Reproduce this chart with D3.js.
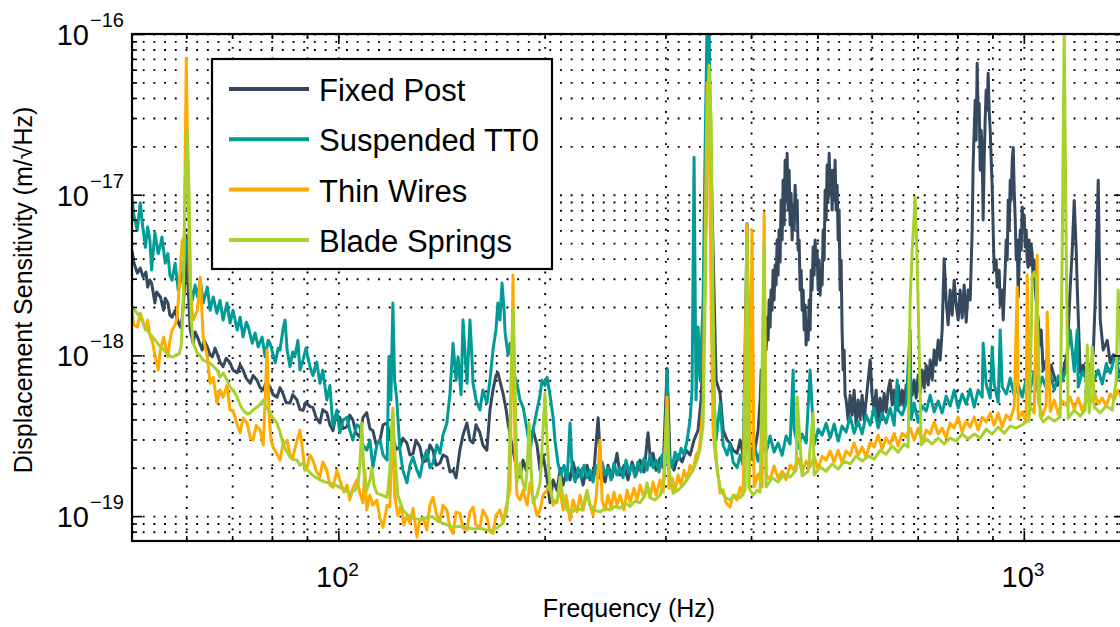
<!DOCTYPE html>
<html><head><meta charset="utf-8">
<script src="https://cdn.jsdelivr.net/npm/d3@7"></script>
<style>body{margin:0;background:#fff} text{font-family:"Liberation Sans",Arial,Helvetica,sans-serif;fill:#000}</style>
</head><body><svg id="c" width="1120" height="627"></svg>
<script>
// values: [frequency Hz, displacement sensitivity in units of 1e-19 m/sqrt(Hz)]
const UNIT = 1e-19;
const seriesNames = ["Fixed Post", "Suspended TT0", "Thin Wires", "Blade Springs"];
const seriesColors = ["#34495e", "#009a97", "#ffab00", "#a7d12c"];
const xDomain = [50, 1400];
const yDomain = [7e-20, 1e-16];
const xMajorTicks = [100, 1000];
const xMajorExp = ["2", "3"];
const xMinorTicks = [60, 70, 80, 90, 200, 300, 400, 500, 600, 700, 800, 900];
const yMajorExp = [-19, -18, -17, -16];
const yMinorMult = [2, 3, 4, 5, 6, 7, 8, 9];

const fixedPost = [[50,45],[50.3,38],[50.9,32.5],[51.4,35],[51.9,30.7],[52.4,33],[52.7,26.6],[53.1,29.4],[53.4,28.2],[54,21.2],[54.3,24.8],[55,23.1],[55.6,19.1],[55.9,22.7],[56.4,21.2],[56.8,17.8],[57.2,17.3],[57.8,19.1],[58.4,16.1],[58.8,15],[59.2,17.1],[59.6,25.5],[60,56],[60.4,25.5],[60.8,14.4],[61.4,11.9],[61.8,14],[62.3,13],[62.9,11.6],[63.3,10.8],[63.7,12.4],[64.4,11.3],[65,10.1],[65.5,9.8],[66.1,11.1],[66.5,10.3],[67.2,9.1],[67.9,8.5],[68.6,9.6],[69.5,9.0],[70.2,8.1],[71.2,7.8],[71.9,8.7],[72.6,8.1],[73.4,7.2],[74.4,6.7],[75.1,7.5],[76.1,7.0],[76.9,6.3],[77.7,6.1],[78.5,6.8],[79.5,6.35],[80.3,5.7],[81.4,5.5],[82.2,6.3],[83,5.8],[83.9,5.1],[85,5.05],[85.8,5.7],[87,5.3],[87.9,4.6],[88.8,4.55],[89.7,5.1],[90.9,4.8],[91.8,4.75],[92.8,4.1],[94,3.8],[94.9,4.6],[96.2,4.4],[97.2,3.7],[98.2,3.4],[99.2,4.25],[100.5,4.1],[101.6,3.5],[103,3.6],[103.9,4.25],[105,3.96],[106.1,3.3],[107.5,3.1],[108.6,4.1],[110,4.4],[111.2,3.5],[112.3,3.4],[113.5,2.8],[115,2.97],[116.2,3.7],[117.8,3.8],[118.9,3.1],[120.1,3.1],[121.4,2.6],[123,2.7],[124.2,3.05],[125.9,2.85],[127.2,2.4],[128.5,2.45],[129.8,2.97],[131.5,2.7],[132.9,2.17],[134.6,2.23],[136,2.77],[137.4,2.57],[138.8,2.07],[140.7,2.14],[142.1,2.4],[144,2.33],[145.5,1.88],[147,1.93],[148.5,1.73],[150.4,2.57],[152,3.2],[154,3.8],[155.6,2.97],[157.2,2.85],[158.8,3.7],[160.9,3.3],[162.5,2.77],[164.7,2.57],[166.4,4.57],[168.1,6.1],[169.8,7.5],[170.9,7.8],[172.7,6.5],[173.9,5.8],[175.7,4.57],[176.8,3.8],[178.6,2.97],[179.8,2.57],[181.6,2.07],[184.1,1.75],[186,2.23],[187.9,1.93],[190.4,2.77],[192.3,3.43],[194.9,2.77],[196.9,1.93],[198.9,2.4],[201.7,1.68],[203.6,1.21],[205.7,1.68],[208.4,1.45],[210.6,1.93],[212.7,1.56],[215.6,1.93],[217.8,1.68],[220,2.17],[222.9,1.73],[225.2,1.93],[227.5,1.56],[230.6,2.07],[232.9,1.68],[236,1.93],[239.3,4.1],[241.7,1.93],[245,1.63],[247.4,2.07],[250.8,1.73],[255,2.46],[257.6,1.8],[261.1,2.07],[264.6,1.68],[268.2,2.17],[271.8,1.8],[275.5,2.23],[279.2,1.88],[283,3.3],[285.8,2.07],[287.8,2.46],[290.7,1.93],[294.7,2.3],[297.7,2.0],[301.7,8.3],[304.7,2.23],[308.8,1.93],[313.1,2.4],[317.3,2.17],[321.6,2.57],[325.9,2.4],[330.3,2.97],[334.8,3.43],[338.2,5.3],[341.6,14.4],[345,189],[348.6,291],[352.1,45],[355.7,7.0],[360.5,5.8],[364.2,3.43],[369.1,2.97],[372.8,2.85],[376.6,2.57],[381.7,2.46],[385.6,2.97],[389.5,2.4],[394.7,2.77],[398.7,2.57],[402.8,2.23],[409.6,3.43],[412.4,5.27],[413.8,8.1],[415.2,6.08],[416.6,11.6],[418,9.35],[419.4,14.4],[420.8,10.8],[422.2,17.1],[423.6,12.45],[425,22.1],[426.4,15],[427.8,25.5],[429.3,19.1],[430.7,33.9],[432.2,22.1],[433.7,36.5],[435.1,27.4],[436.6,52.2],[438,31.6],[439.5,60.2],[441,38.1],[442.5,92.5],[444,52.2],[445.5,123],[447,64.7],[448.5,164],[450,92.5],[451.5,181],[453.1,80.2],[454.6,142],[456.1,64.7],[457.6,102],[459.2,52.2],[460.7,86.1],[462.3,60.2],[463.8,114.6],[465.4,74.7],[467,92.5],[468.5,45.2],[470.1,52.2],[471.7,25.5],[473.3,33.9],[474.9,19.1],[476.5,25.5],[478.1,14.4],[479.7,20.6],[481.3,11.6],[483,16.6],[484.6,12.45],[486.2,22.1],[487.8,14.4],[489.5,33.9],[491.1,25.5],[492.8,47.2],[494.4,31.6],[496.1,52.2],[497.8,36.5],[499.4,45.2],[501.1,25.5],[502.8,39.2],[504.5,23.7],[506.2,33.9],[507.9,27.4],[509.6,60.2],[511.3,39.2],[513,106.7],[514.8,69.5],[516.5,153],[518.2,92.5],[520,181],[521.7,99.3],[523.5,142],[525.2,80.2],[527,142],[528.8,92.5],[530.5,164],[532.3,80.2],[534.1,114.6],[535.9,52.2],[537.7,80.2],[539.5,25.5],[541.3,39.2],[543.1,14.4],[545,8.1],[546.8,10.8],[548.6,5.66],[550.5,5.27],[554.2,3.96],[558,5.66],[561.7,4.25],[565.5,6.08],[569.3,3.68],[573.2,5.27],[577,4.07],[580.9,5.66],[584.8,3.96],[588.8,5.27],[592.8,7.02],[596.8,9.35],[600.8,5.66],[604.8,4.57],[608.9,6.08],[613,3.96],[617.2,5.43],[621.3,4.25],[625.5,5.82],[629.7,4.44],[634,6.08],[638.2,7.02],[642.6,4.91],[646.9,6.08],[651.3,4.57],[655.7,6.54],[660.1,4.91],[664.5,6.08],[669,4.77],[673.5,6.54],[678.1,5.66],[682.6,7.54],[687.2,5.66],[691.9,7.02],[696.5,5.43],[701.2,7.54],[706,5.82],[710.7,8.1],[715.6,6.26],[720.4,8.7],[725.3,6.54],[730.1,9.35],[735.1,7.02],[740,10.8],[745,8.7],[750,12.45],[755,9.35],[760.1,14.4],[765.2,40],[770.3,22.1],[775.5,15.5],[780.8,25.5],[786.1,17.8],[791.4,29.4],[796.7,20.6],[802.1,16.6],[807.5,25.5],[812.9,17.1],[818.4,27.4],[823.9,16.1],[829.5,25.5],[835.1,22.1],[840.7,60.2],[843.5,157],[849.2,387],[852,218],[854.9,658],[857.8,291],[860.7,371],[863.7,142],[866.6,252],[869.4,181],[872.3,69.5],[875.3,164],[878.2,291],[881.1,447],[884.1,336],[887.1,570],[890.1,336],[893.2,252],[896.2,164],[899.2,111],[902.2,60.2],[905.2,33.9],[911.3,39.2],[914.4,26.6],[920.6,33.9],[923.7,20.6],[929.9,25.5],[933,16.6],[939.3,33.9],[942.5,52.2],[945.7,39.2],[948.9,92.5],[952.1,60.2],[955.3,123],[958.5,92.5],[961.7,164],[965,197],[968.2,106.7],[971.5,69.5],[974.8,39.2],[978,52.2],[981.3,23.1],[984.6,39.2],[987.9,60.2],[991.2,45.2],[994.5,83.7],[997.9,60.2],[1001.2,74.7],[1004.5,47.2],[1007.9,60.2],[1011.3,39.2],[1014.6,35.4],[1018,52.2],[1021.5,36.5],[1024.9,48.5],[1028.3,43.3],[1031.8,29.4],[1035.3,39.2],[1038.7,26.6],[1042.2,22.1],[1049.3,16.6],[1056.4,11.6],[1060,14.4],[1067.1,8.1],[1078.2,9.35],[1085.4,7.0],[1096.4,8.7],[1103.8,7.76],[1118.7,6.5],[1130,7.0],[1141.5,8.1],[1156.9,10.3],[1168.7,26.6],[1176.5,45],[1184.4,92],[1192.4,45],[1196.4,26.6],[1208.6,7.8],[1220.8,8.7],[1237.4,7.0],[1249.9,8.1],[1262.6,10.3],[1271,22],[1283.9,123],[1292.6,16.6],[1305.6,10.8],[1323.3,12.4],[1336.8,9.0],[1350.3,10.1],[1368.5,9.8],[1387,9.35]];

const suspendedTT0 = [[50,99],[50.3,75],[50.9,60],[51.4,89],[51.8,65],[52.3,47],[52.7,63],[53.1,52],[53.4,34],[54,58],[54.6,43],[55,48.5],[55.3,54.5],[55.9,37.5],[56.4,43],[56.8,31.6],[57.2,29.4],[57.8,37.5],[58.4,25.5],[58.8,28.6],[59.4,34],[60,52],[60.6,29.4],[61.2,22],[61.8,27.4],[62.3,23.1],[62.9,29.4],[63.5,21.2],[64.4,26.6],[65,19.1],[65.7,23.1],[66.5,18.3],[67.2,22],[67.9,16.6],[68.8,21.2],[69.5,15.9],[70.2,19.1],[71.2,14.4],[71.9,17.3],[72.6,13],[73.4,16.1],[73.9,15],[74.9,11.9],[75.6,13.8],[76.4,11.3],[77.4,13],[78.2,9.8],[79,12.4],[79.5,11.9],[80.3,10.1],[80.9,9.0],[81.7,11.1],[82.2,10.8],[83,14.4],[83.6,16.6],[84.2,10.8],[85,8.5],[85.8,10.5],[86.4,9.8],[87.3,12.4],[87.9,8.1],[88.8,9.35],[89.7,11.1],[90.9,8.5],[91.8,7.5],[93,9.1],[94,6.7],[94.9,8.1],[96.2,5.27],[97.2,6.5],[98.2,3.6],[99.5,4.57],[100.5,3.3],[101.6,3.96],[103,4.13],[103.9,3.43],[105,2.97],[106.4,3.7],[107.5,3.6],[108.6,2.77],[110,2.57],[111.2,2.97],[112.3,2.0],[113.8,2.77],[115,2.97],[116.2,2.4],[117.8,2.23],[118.5,9.8],[119.3,5.27],[120.1,21.2],[120.8,7.0],[121.6,5.5],[123,2.57],[124.2,1.93],[125.9,1.61],[127.2,2.07],[128.5,2.33],[130.2,1.93],[131.5,1.75],[132.9,2.23],[134.6,2.57],[136,2.0],[137.4,2.14],[139.2,2.77],[140.7,2.46],[142.1,3.2],[144,3.8],[145.5,5.8],[147,11.9],[148.5,7.0],[149.5,9.8],[151,5.7],[152,16.6],[153.6,8.1],[154.1,6.7],[155.6,16.6],[156.7,9.35],[157.2,6.7],[158.8,5.27],[160.9,4.57],[162.5,6.1],[164.7,5.05],[166.4,7.0],[168.1,10.8],[169.8,14.4],[170.9,21.2],[172.1,16.6],[173.3,28.2],[174.5,19.1],[175.1,13.8],[176.8,10.1],[178,11.9],[179.8,8.1],[182.2,6.7],[184.1,5.27],[186,4.77],[188.5,3.43],[190.4,2.57],[192.3,3.43],[194.9,4.57],[196.9,5.66],[198.2,7.0],[200.2,6.5],[201.6,7.3],[203.6,5.66],[205.7,4.13],[207,2.97],[209.1,2.14],[211.3,1.8],[213.4,2.07],[215.6,1.68],[217.8,3.8],[219.3,1.93],[221.5,1.63],[223.7,2.0],[226,1.73],[228.3,2.07],[230.6,1.73],[232.9,1.93],[235.3,1.63],[237.7,2.07],[240.1,1.73],[242.5,2.17],[245,1.8],[247.4,2.0],[249.9,1.68],[252.4,2.14],[255,1.8],[257.6,2.0],[260.2,1.73],[262.8,2.23],[265.5,1.86],[268.2,2.07],[270.9,1.75],[273.6,2.17],[276.4,1.88],[279.2,2.29],[282,1.93],[284.9,2.4],[287.8,2.0],[290.7,2.23],[293.7,1.88],[296.7,2.4],[299.7,2.07],[301.7,8.1],[303.7,2.4],[306.8,2.0],[309.9,2.5],[313.1,2.23],[316.3,2.64],[319.4,2.4],[322.7,2.97],[325.9,3.96],[328.1,6.1],[330.3,171],[332.5,5.27],[334.8,15],[337.1,7.0],[340.5,22],[342.8,189],[345.1,1220],[347.4,1220],[349.8,92],[352.1,7.0],[355.7,2.97],[360.5,5.05],[364.2,2.77],[369.1,2.4],[372.8,2.85],[376.6,2.17],[381.7,2.0],[385.6,2.4],[389.5,2.07],[394.7,66],[398.7,2.23],[404.1,2.81],[409.6,2.2],[415.2,2.73],[420.8,2.5],[426.4,3.15],[432.2,2.5],[438,2.85],[444,2.39],[450,3.15],[456.1,2.81],[460.7,8.1],[462.3,3.48],[468.5,2.65],[474.9,3.24],[481.3,2.85],[487.8,8.1],[494.4,2.77],[501.1,3.48],[507.9,3.19],[514.8,3.79],[521.7,3.06],[528.8,3.74],[535.9,2.93],[543.1,3.63],[550.5,3.33],[558,4.19],[565.5,3.28],[573.2,3.9],[580.9,3.24],[588.8,4.25],[596.8,3.68],[604.8,4.7],[613,3.53],[621.3,4.38],[629.7,3.79],[638.2,4.7],[646.9,3.68],[653.5,7.02],[655.7,4.57],[664.5,4.25],[673.5,5.05],[682.6,14.4],[684.9,4.01],[691.9,5.05],[701.2,3.85],[710.7,4.84],[720.4,4.5],[730.1,5.66],[740,4.44],[750,5.2],[760.1,4.38],[770.3,5.58],[780.8,4.84],[791.4,6.08],[802.1,4.7],[812.9,5.75],[823.9,4.98],[835.1,6.17],[846.4,4.77],[857.8,6.08],[869.4,5.5],[872.3,11.9],[881.1,6.63],[893.2,5.43],[899.2,11.3],[905.2,6.63],[917.5,5.12],[923.7,14.4],[929.9,6.35],[942.5,5.75],[955.3,7.23],[968.2,5.66],[981.3,6.54],[994.5,5.5],[1007.9,7.12],[1021.5,6.17],[1035.3,7.88],[1049.3,5.91],[1063.6,7.33],[1078,6.26],[1092.7,7.77],[1107.5,6.08],[1122.5,7.44],[1137.6,6.92],[1153,8.22],[1156.9,10.1],[1168.7,14.4],[1184.4,7.99],[1196.4,14.4],[1200.5,6.35],[1216.7,7.88],[1233.1,7.12],[1249.9,8.83],[1266.8,7.02],[1283.9,8.1],[1301.3,6.63],[1319,8.83],[1336.8,7.77],[1354.9,9.62],[1368.5,9.76],[1373.2,7.23],[1391.8,8.83]];

const thinWires = [[50,19.1],[50.3,15.5],[50.9,15],[51.4,18.3],[51.8,16.6],[52.3,14.4],[52.7,16.6],[53.1,13.4],[53.6,11.9],[54,10.1],[54.6,8.1],[55,10.8],[55.6,13],[55.9,11.6],[56.4,9.8],[56.8,12.4],[57.2,14.4],[57.8,15.5],[58.2,17.3],[58.8,34],[59.2,52],[59.6,54.5],[60,707],[60.4,92],[60.8,25.5],[61.4,16.6],[62.3,19.1],[62.9,30.7],[63.5,13],[64.4,9.8],[65,6.7],[65.7,7.3],[66.5,5.05],[67.2,6.1],[67.9,5.5],[68.8,6.5],[69.5,4.57],[70.2,4.55],[71.2,3.7],[71.9,3.3],[72.6,4.07],[73.6,3.8],[74.4,3.06],[75.1,2.97],[75.9,3.68],[76.9,3.43],[77.7,2.77],[78.2,5.27],[78.7,10.8],[79.3,3.96],[79.8,2.97],[80.3,2.68],[81.1,2.5],[82.2,2.23],[83,2.77],[84.2,2.97],[85,2.4],[85.8,2.33],[86.7,2.77],[87.9,3.43],[88.5,2.77],[89.4,1.93],[90,2.0],[90.9,2.4],[91.8,2.23],[93,1.88],[94,1.75],[94.9,2.17],[96.2,1.93],[97.2,1.56],[98.2,1.51],[99.5,1.93],[100.5,1.68],[101.9,1.41],[103,1.56],[103.9,1.26],[105,1.49],[106.4,1.68],[107.5,1.39],[108.6,1.21],[109.3,1.93],[110,1.09],[111.2,1.35],[112.3,1.17],[113.8,1.26],[115,0.97],[116.2,0.85],[117.8,1.17],[118.9,1.14],[120.1,4.7],[120.8,1.35],[122.1,1.01],[123.4,1.17],[124.6,0.88],[125.9,1.01],[127.2,0.9],[128.5,1.12],[130.2,0.74],[131.5,0.94],[132.9,0.98],[134.6,0.82],[136,1.17],[137.4,1.31],[139.2,1.01],[140.7,0.94],[142.1,1.17],[144,1.09],[145.5,0.84],[147,0.78],[148.5,1.06],[150.4,1.04],[152,0.84],[154,0.82],[155.6,1.06],[157.2,1.14],[158.8,0.88],[160.9,0.85],[162.5,1.09],[164.7,0.98],[166.4,0.8],[168.1,0.78],[169.8,1.01],[172.1,1.09],[173.9,0.92],[176.2,1.21],[178,1.45],[179.8,31.6],[181,2.57],[182.2,1.35],[184.1,1.26],[186,1.45],[188.5,1.17],[190.4,1.61],[192.3,1.3],[194.9,1.01],[196.9,1.09],[198.9,1.35],[201.6,1.45],[203.6,1.61],[205.7,1.17],[208.4,1.26],[210.6,1.45],[212.7,1.09],[214.9,1.35],[217.8,0.94],[220,1.26],[222.9,1.06],[225.2,1.35],[227.5,1.09],[230.6,1.39],[232.9,1.17],[235.3,1.01],[237.7,1.3],[240.9,2.97],[242.5,1.26],[245,1.09],[247.4,1.35],[249.9,1.12],[252.4,1.41],[255,1.17],[257.6,1.35],[261.1,1.09],[263.7,1.45],[266.4,1.22],[270,1.49],[272.7,1.26],[275.5,1.56],[279.2,1.3],[282,1.56],[284.9,1.31],[287.8,1.63],[290.7,1.35],[294.7,1.68],[297.7,1.41],[301.7,5.5],[303.7,1.49],[306.8,1.73],[309.9,1.45],[313.1,1.8],[316.3,1.56],[319.4,1.93],[322.7,1.68],[325.9,2.07],[329.2,1.93],[332.5,2.4],[335.9,2.57],[338.2,3.43],[340.5,5.27],[342.8,45],[345.1,500],[347.4,291],[349.8,22],[352.1,3.43],[354.5,2.46],[358.1,1.8],[360.5,1.39],[364.2,1.45],[367.8,1.21],[372.8,1.14],[376.6,1.35],[381.7,1.26],[385.6,1.51],[389.5,1.35],[394.7,65],[397.4,1.51],[401.4,60],[404.1,1.52],[409.6,1.83],[415.2,1.52],[418,77],[420.8,1.8],[426.4,1.7],[432.2,2.05],[438,1.73],[444,1.9],[450,1.68],[456.1,2.08],[462.3,1.93],[468.5,2.29],[474.9,1.88],[481.3,2.2],[487.8,2.02],[494.4,2.36],[501.1,1.96],[507.9,2.36],[514.8,2.23],[521.7,2.54],[528.8,2.17],[535.9,2.57],[543.1,2.14],[550.5,2.54],[558,2.39],[565.5,2.85],[573.2,2.39],[580.9,2.69],[588.8,2.33],[596.8,2.89],[604.8,2.69],[613,3.19],[621.3,2.61],[629.7,3.06],[638.2,2.81],[646.9,3.28],[655.7,2.73],[664.5,3.28],[673.5,3.1],[682.6,3.53],[691.9,2.97],[701.2,3.53],[710.7,2.89],[720.4,3.43],[730.1,3.24],[740,3.85],[750,3.24],[760.1,3.53],[770.3,3.06],[780.8,3.79],[791.4,3.53],[802.1,4.13],[812.9,3.33],[823.9,3.9],[835.1,3.58],[846.4,4.13],[857.8,3.43],[869.4,4.13],[881.1,3.85],[893.2,4.38],[905.2,3.68],[917.5,4.38],[929.9,3.58],[942.5,4.25],[955.3,4.01],[968.2,4.77],[978,26.6],[981.3,4.01],[994.5,4.44],[1007.9,3.85],[1011.3,31.6],[1021.5,4.77],[1035.3,4.38],[1045.9,42],[1049.3,5.2],[1063.6,4.19],[1078,4.91],[1081.8,18.6],[1092.7,4.5],[1107.5,5.27],[1122.5,4.31],[1137.6,5.2],[1153,4.91],[1168.7,5.5],[1184.4,4.64],[1200.5,5.43],[1216.7,4.5],[1233.1,5.35],[1249.9,4.98],[1266.8,5.91],[1283.9,4.98],[1301.3,5.43],[1319,4.84],[1336.8,5.75],[1354.9,5.35],[1373.2,6.08],[1391.8,5.27]];

const bladeSprings = [[50,19.9],[50.7,18.6],[51.4,17.3],[52.1,15.5],[52.6,14.4],[53.1,13.6],[53.6,13],[54.3,12.1],[55,11.3],[55.7,10.8],[56.2,10.3],[56.8,9.9],[57.4,9.76],[58,10.1],[58.6,10.2],[59,11.6],[59.4,22],[59.8,123],[60.2,252],[60.6,92],[61,16.6],[61.4,11.9],[62.3,10.3],[62.9,9.9],[63.5,9.35],[64.4,9.1],[65,8.96],[65.7,8.57],[66.5,8.1],[67.2,7.33],[67.9,7.76],[68.8,7.02],[69.5,6.35],[70.2,6.08],[71.2,5.5],[71.9,4.91],[72.6,4.57],[73.6,4.31],[74.4,4.38],[75.1,4.57],[76.1,4.77],[76.9,4.98],[77.7,5.27],[78.5,4.77],[79.5,4.38],[80.3,4.07],[81.4,3.79],[82.2,3.33],[83,2.85],[83.9,2.57],[85,2.33],[85.8,2.26],[87,2.23],[87.9,2.07],[88.8,2.14],[89.7,1.99],[90.9,1.86],[92.5,1.75],[94,1.68],[95.6,1.63],[97.2,1.61],[98.9,1.56],[100.5,1.51],[102.2,1.45],[103.9,1.39],[105.7,1.45],[106.8,1.56],[107.5,2.07],[108.2,3.79],[108.9,1.93],[110,1.45],[111.2,1.68],[111.9,2.0],[112.7,1.56],[113.8,1.39],[115.8,1.35],[117.8,1.31],[118.9,1.93],[119.7,3.68],[120.1,4.38],[120.8,2.57],[122.1,1.35],[124.2,1.09],[127.2,0.985],[130.2,0.96],[132.9,0.944],[135.1,1.0],[137.4,0.985],[139.7,0.93],[142.1,0.905],[144.5,0.88],[147,0.853],[150.4,0.866],[154,0.853],[157.2,0.83],[160.9,0.84],[164.7,0.818],[168.1,0.818],[170.9,0.853],[173.9,0.905],[176.2,1.09],[177.4,1.93],[178.6,7.02],[179.8,19.7],[181,7.02],[182.2,1.61],[183.5,1.93],[184.1,2.14],[185.4,1.68],[187.3,1.45],[188.5,1.93],[189.8,3.79],[191.1,1.93],[192.3,1.21],[194.9,1.35],[196.9,1.61],[198.9,3.43],[200.2,5.82],[201.6,2.97],[203.6,1.45],[205.7,1.26],[208.4,1.21],[210.6,1.75],[212.7,1.26],[215.6,1.09],[219.3,1.06],[222.9,1.12],[226.7,1.09],[230.6,1.45],[232.9,1.17],[236.8,1.09],[240.9,1.06],[245,1.12],[249.1,1.09],[253.3,1.15],[257.6,1.12],[262,1.21],[266.4,1.15],[270.9,1.24],[275.5,1.21],[280.1,1.35],[282,1.61],[284.9,1.3],[289.7,1.26],[294.7,1.35],[298.7,1.68],[301.7,4.57],[303.7,1.93],[307.8,1.39],[313.1,1.45],[318.4,1.56],[323.8,1.73],[329.2,1.93],[333.7,2.23],[337.1,2.64],[340.5,3.68],[342.8,22],[345.1,291],[347.4,640],[349.8,291],[352.1,22],[354.5,2.97],[356.9,1.93],[360.5,1.51],[366.6,1.31],[372.8,1.26],[379.2,1.35],[385.6,1.3],[392.1,1.45],[394.7,54.5],[397.4,1.49],[402.8,1.35],[408.2,1.45],[412.4,1.41],[418,50],[420.8,1.52],[429.3,1.73],[438,1.63],[447,1.83],[456.1,1.75],[465.4,1.93],[467,5.5],[474.9,1.78],[484.6,1.9],[492.7,4.38],[494.4,1.8],[504.5,2.02],[514.8,1.9],[525.2,2.11],[535.9,1.96],[546.8,2.2],[558,2.11],[569.3,2.36],[580.9,2.2],[592.8,2.36],[604.8,2.26],[617.2,2.57],[629.7,2.43],[642.6,2.73],[655.7,2.5],[669,2.81],[678.1,2.69],[682.6,22],[687.2,45],[694.2,96],[698.8,39],[703.6,10.8],[708.4,2.77],[720.4,3.02],[735.1,2.81],[750,3.06],[765.2,2.81],[780.8,3.06],[796.7,2.93],[812.9,3.24],[829.5,3.02],[846.4,3.24],[863.7,3.06],[881.1,3.48],[899.2,3.24],[917.5,3.58],[936.1,3.28],[955.3,3.63],[974.8,3.53],[994.5,3.7],[1011.3,3.9],[1018,3.9],[1024.9,13],[1028.3,31],[1035.3,33],[1042.2,30],[1049.3,12],[1056.4,4.2],[1067.3,3.85],[1085.4,4.13],[1107.5,3.9],[1130,4.13],[1137.6,45],[1145.3,1000],[1153,45],[1160.9,4.07],[1184.4,4.57],[1208.6,4.19],[1229,4.57],[1237.4,11.6],[1245.7,4.38],[1258.3,11.3],[1266.8,4.77],[1292.6,4.38],[1319,4.84],[1345.8,4.57],[1364,7.02],[1373.1,25.5],[1382.5,14.4],[1392,4.91]];

const allSeries = [fixedPost, suspendedTT0, thinWires, bladeSprings];

// ---------- drawing ----------
const W = 1120, H = 627;
const L = 132, T = 34, R = 1124, B = 541;
const x = d3.scaleLog().domain(xDomain).range([L, R]);
const y = d3.scaleLog().domain(yDomain).range([B, T]);
const svg = d3.select("#c");
svg.append("rect").attr("width", W).attr("height", H).attr("fill", "#fff");

const yGridVals = [];
yMajorExp.forEach(e => { yGridVals.push(Math.pow(10, e)); if (e < -16) yMinorMult.forEach(m => yGridVals.push(m * Math.pow(10, e))); });
yGridVals.push(8e-20, 9e-20);
const yMajorVals = yMajorExp.map(e => Math.pow(10, e));
const yMinorVals = yGridVals.filter(v => !yMajorVals.some(m => Math.abs(v - m) / m < 1e-6));
const xGridVals = xMajorTicks.concat(xMinorTicks);

// grid (dotted)
const dot = sel => { sel.select(".domain").remove(); sel.selectAll("line").attr("stroke", "#000").attr("stroke-width", 1.9).attr("stroke-dasharray", "1.9 8.8"); };
svg.append("g").attr("transform", `translate(0,${B})`)
  .call(d3.axisBottom(x).tickValues(xGridVals).tickSize(-(B - T)).tickFormat("")).call(dot);
svg.append("g").attr("transform", `translate(${L},0)`)
  .call(d3.axisLeft(y).tickValues(yGridVals).tickSize(-(R - L)).tickFormat("")).call(dot);

// data lines
svg.append("clipPath").attr("id", "clip").append("rect").attr("x", L).attr("y", T).attr("width", R - L).attr("height", B - T);
const line = d3.line().x(d => x(d[0])).y(d => y(d[1] * UNIT));
const plot = svg.append("g").attr("clip-path", "url(#clip)");
allSeries.forEach((s, i) => {
  plot.append("path").datum(s).attr("d", line).attr("fill", "none")
    .attr("stroke", seriesColors[i]).attr("stroke-width", 3).attr("stroke-linejoin", "round");
});

// frame and ticks
const tk = sel => { sel.select(".domain").remove(); sel.selectAll("line").attr("stroke", "#000").attr("stroke-width", 1.6); };
const axes = [
  [d3.axisBottom, `translate(0,${B})`, x], [d3.axisTop, `translate(0,${T})`, x],
  [d3.axisLeft, `translate(${L},0)`, y], [d3.axisRight, `translate(${R},0)`, y]
];
axes.forEach(([fn, tr, sc]) => {
  const maj = sc === x ? xMajorTicks : yMajorVals;
  const min = sc === x ? xMinorTicks : yMinorVals;
  svg.append("g").attr("transform", tr).call(fn(sc).tickValues(maj).tickSize(-10).tickFormat("")).call(tk);
  svg.append("g").attr("transform", tr).call(fn(sc).tickValues(min).tickSize(-5).tickFormat("")).call(tk);
});
svg.append("rect").attr("x", L).attr("y", T).attr("width", R - L).attr("height", B - T)
  .attr("fill", "none").attr("stroke", "#000").attr("stroke-width", 2.2);

// tick labels
yMajorExp.forEach(e => {
  const yy = y(Math.pow(10, e));
  svg.append("text").attr("x", 89).attr("y", yy + 11).attr("text-anchor", "end").attr("font-size", 29).text("10");
  svg.append("text").attr("x", 90).attr("y", yy - 7).attr("text-anchor", "start").attr("font-size", 20).text("\u2212" + Math.abs(e));
});
xMajorTicks.forEach((v, i) => {
  const xx = x(v);
  svg.append("text").attr("x", xx + 10).attr("y", 587).attr("text-anchor", "end").attr("font-size", 29).text("10");
  svg.append("text").attr("x", xx + 10).attr("y", 576).attr("text-anchor", "start").attr("font-size", 19).text(xMajorExp[i]);
});

// axis titles
svg.append("text").attr("x", 629).attr("y", 617).attr("text-anchor", "middle").attr("font-size", 25).text("Frequency (Hz)");
svg.append("text").attr("transform", "translate(32,290) rotate(-90)").attr("text-anchor", "middle")
  .attr("font-size", 25).text("Displacement Sensitivity (m/\u221AHz)");

// legend
const lg = svg.append("g");
lg.append("rect").attr("x", 212).attr("y", 59).attr("width", 340).attr("height", 210)
  .attr("fill", "#fff").attr("stroke", "#000").attr("stroke-width", 2.2);
seriesNames.forEach((n, i) => {
  const ly = 89 + i * 50.3;
  lg.append("line").attr("x1", 229).attr("x2", 309).attr("y1", ly).attr("y2", ly)
    .attr("stroke", seriesColors[i]).attr("stroke-width", 4);
  lg.append("text").attr("x", 319).attr("y", ly + 12).attr("font-size", 31).text(n);
});
</script></body></html>
